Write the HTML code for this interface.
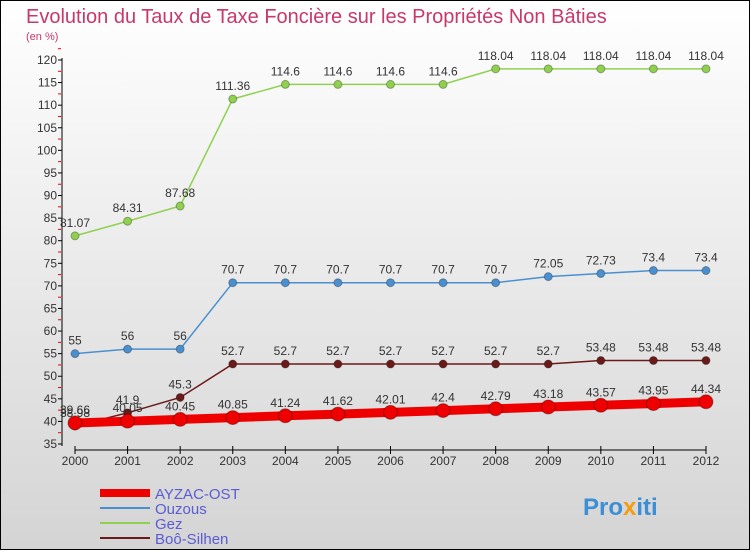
<!DOCTYPE html>
<html><head><meta charset="utf-8"><style>
body{margin:0;width:750px;height:550px;overflow:hidden;font-family:"Liberation Sans",sans-serif}
</style></head><body>
<svg id="c" width="750" height="550" xmlns="http://www.w3.org/2000/svg">
<defs><linearGradient id="bg" x1="0" y1="0" x2="0" y2="1"><stop offset="0" stop-color="#ffffff"/><stop offset="1" stop-color="#d4d4d4"/></linearGradient></defs>
<rect x="0.5" y="0.5" width="749" height="549" fill="url(#bg)" stroke="#000"/>
<text x="26" y="23" font-size="20" fill="#c8386a">Evolution du Taux de Taxe Foncière sur les Propriétés Non Bâties</text>
<text x="26" y="40" font-size="11" fill="#c8386a">(en %)</text>
<g id="axes"></g><g id="series"></g><g id="legend"></g>
<text x="583" y="515" font-size="24" font-weight="bold"><tspan fill="#3b8fd6">Pro</tspan><tspan fill="#f39c12">x</tspan><tspan fill="#3b8fd6">iti</tspan></text>
</svg>
<script>
const years=[2000,2001,2002,2003,2004,2005,2006,2007,2008,2009,2010,2011,2012];
const yTicks=[35,40,45,50,55,60,65,70,75,80,85,90,95,100,105,110,115,120];
const ayzac=[39.66,40.05,40.45,40.85,41.24,41.62,42.01,42.4,42.79,43.18,43.57,43.95,44.34];
const ouzous=[55,56,56,70.7,70.7,70.7,70.7,70.7,70.7,72.05,72.73,73.4,73.4];
const gez=[81.07,84.31,87.68,111.36,114.6,114.6,114.6,114.6,118.04,118.04,118.04,118.04,118.04];
const boo=[38.98,41.9,45.3,52.7,52.7,52.7,52.7,52.7,52.7,52.7,53.48,53.48,53.48];
const names=["AYZAC-OST","Ouzous","Gez","Boô-Silhen"];
const NS="http://www.w3.org/2000/svg";
const xs=i=>75+i*(706-75)/(years.length-1);
const ys=v=>444-(v-35)*(444-60)/(120-35);
function mk(t,a,p){const e=document.createElementNS(NS,t);for(const k in a)e.setAttribute(k,a[k]);p.appendChild(e);return e;}
const ax=document.getElementById('axes');
let l=mk('line',{x1:62,y1:58,x2:62,y2:446,stroke:'#000'},ax);


yTicks.forEach(v=>{
 const t=mk('line',{x1:58,x2:62,y1:ys(v),y2:ys(v),stroke:'#000'},ax);
 
 
 const r=mk('line',{x1:58,x2:61,y1:ys(v+2.5),y2:ys(v+2.5),stroke:'#e00'},ax);
 
 
 const tx=mk('text',{x:57,y:ys(v)+4,'text-anchor':'end','font-size':12,fill:'#333'},ax);
 tx.textContent=v;
 
 
});
l=mk('line',{x1:75,y1:450,x2:706,y2:450,stroke:'#000'},ax);


years.forEach((y,i)=>{
 const t=mk('line',{x1:xs(i),x2:xs(i),y1:446,y2:454,stroke:'#000'},ax);
 
 
 const tx=mk('text',{x:xs(i),y:465,'text-anchor':'middle','font-size':12,fill:'#333'},ax);
 tx.textContent=y;
 
 
});
const sg=document.getElementById('series');
function series(vals,color,w,r,name,labels){
 const g=mk('g',{},sg);
 
 
 const p=mk('polyline',{points:vals.map((v,i)=>xs(i)+','+ys(v)).join(' '),fill:'none',stroke:color,'stroke-width':w},g);
 
 
 vals.forEach((v,i)=>{
  const c=mk('circle',{cx:xs(i),cy:ys(v),r:r,fill:color,stroke:'rgba(0,0,0,0.3)'},g);
  
  
  if(labels){
   const t=mk('text',{x:xs(i),y:ys(v)-9,'text-anchor':'middle','font-size':12,fill:'#333'},g);
   t.textContent=v;
   
   
  }
 });
}
series(gez,'#8fd14f',1.5,4,'gez',true);
series(ouzous,'#4a90d0',1.5,4,'ouzous',true);
series(boo,'#6b1a1a',1.5,4,'boo-silhen',true);
series(ayzac,'#ee0000',9,7,'ayzac-ost',true);
const lg=document.getElementById('legend');
const cols=['#ee0000','#4a90d0','#8fd14f','#6b1a1a'],wd=[8,2,2,2];
names.forEach((n,i)=>{
 const y=493+i*15;
 const ln=mk('line',{x1:100,x2:150,y1:y,y2:y,stroke:cols[i],'stroke-width':wd[i]},lg);
 
 
 const t=mk('text',{x:155,y:y+6,'font-size':15,fill:'#5b5bd6'},lg);
 t.textContent=n;
 
 
});
</script>
</body></html>
